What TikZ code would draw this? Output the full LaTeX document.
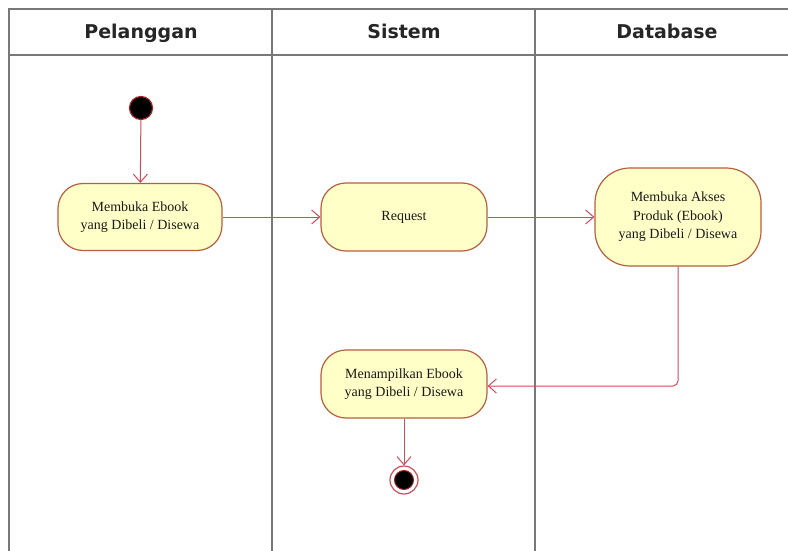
\documentclass[tikz,border=0pt]{standalone}
\usepackage{fontspec}
\setmainfont{Liberation Serif}
\newfontfamily\headfont{DejaVu Sans}
\usetikzlibrary{arrows.meta}
\definecolor{lane}{RGB}{120,120,120}
\definecolor{flow}{RGB}{210,75,90}
\definecolor{actborder}{RGB}{185,95,65}
\definecolor{actfill}{RGB}{255,255,200}
\definecolor{dotborder}{RGB}{160,35,35}
\tikzset{
  laneline/.style={draw=lane, line width=1.4pt},
  lanetitle/.style={font=\headfont\bfseries\fontsize{19}{22}\selectfont, text=black!85, anchor=base},
  activity/.style={draw=actborder, fill=actfill, line width=1.2pt, align=center,
    font=\fontsize{14}{18.5}\selectfont, text=black!90, inner sep=0pt},
  flowline/.style={draw=flow, line width=1pt, -{Straight Barb[length=8pt,width=14pt]}},
  startdot/.style={circle, fill=black, draw=dotborder, line width=1.2pt, minimum size=23pt, inner sep=0pt},
  endring/.style={circle, fill=white, draw=flow, line width=1.2pt, minimum size=28pt, inner sep=0pt},
  endcore/.style={circle, fill=black, draw=dotborder, line width=1pt, minimum size=19pt, inner sep=0pt},
}
\begin{document}
\begin{tikzpicture}[x=1pt,y=-1pt]
  \useasboundingbox (0,0) rectangle (788,551);
  \fill[white] (0,0) rectangle (788,551);

  % swimlane frame
  \draw[laneline] (788,9) -- (9,9) -- (9,551);
  \draw[laneline] (9,55) -- (788,55);
  \draw[laneline] (272,9) -- (272,551);
  \draw[laneline] (535,9) -- (535,551);

  \node[lanetitle] (hPel) at (141,39) {Pelanggan};
  \node[lanetitle] (hSis) at (404,39) {Sistem};
  \node[lanetitle] (hDb)  at (667,39) {Database};

  % activities
  \node[startdot] (start) at (141,108) {};
  \node[activity, minimum width=164pt, minimum height=67pt, rounded corners=25pt]
    (buka) at (140,217) {Membuka Ebook\\yang Dibeli / Disewa};
  \node[activity, minimum width=166pt, minimum height=68pt, rounded corners=25pt]
    (req) at (404,217) {Request};
  \node[activity, minimum width=166pt, minimum height=98pt, rounded corners=35pt]
    (akses) at (678,217) {Membuka Akses\\Produk (Ebook)\\yang Dibeli / Disewa};
  \node[activity, minimum width=166pt, minimum height=68pt, rounded corners=25pt]
    (tampil) at (404,384) {Menampilkan Ebook\\yang Dibeli / Disewa};
  \node[endring] (end) at (404,480) {};
  \node[endcore] (endcore) at (end.center) {};

  % control flow
  \draw[flowline] (start) -- (buka);
  \draw[flowline] (buka) -- (req);
  \draw[flowline] (req) -- (akses);
  \draw[flowline, rounded corners=5pt] (akses.south) |- ([yshift=-2pt]tampil.east);
  \draw[flowline] (tampil) -- (end);
\end{tikzpicture}
\end{document}
